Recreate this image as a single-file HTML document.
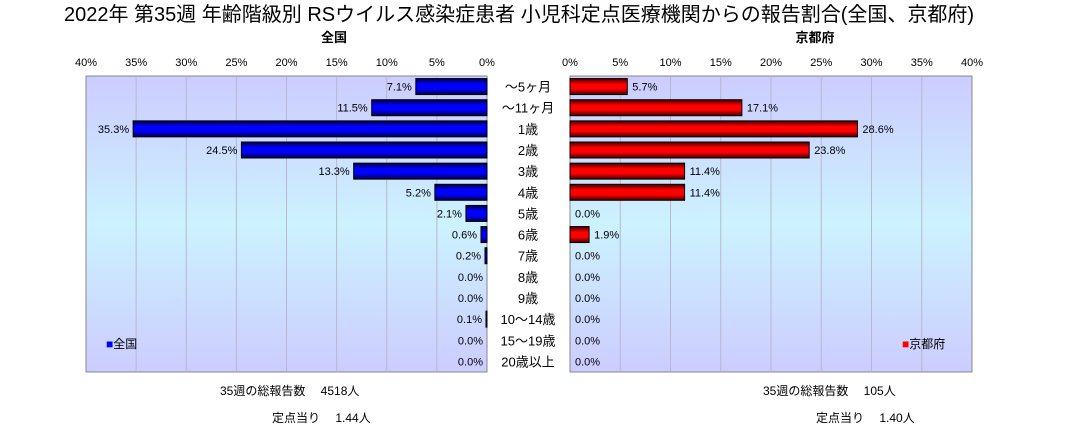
<!DOCTYPE html>
<html><head><meta charset="utf-8"><style>
body{margin:0;background:#fff;}
svg text{font-family:"Liberation Sans","Noto Sans CJK JP",sans-serif;}
</style></head><body>
<svg width="1072" height="431" xmlns="http://www.w3.org/2000/svg">
<defs>
<linearGradient id="bg" x1="0" y1="0" x2="0" y2="1">
<stop offset="0" stop-color="#ccccff"/><stop offset="0.5" stop-color="#ccf2ff"/><stop offset="1" stop-color="#ccccff"/>
</linearGradient>
<linearGradient id="gb" x1="0" y1="0" x2="0" y2="1">
<stop offset="0" stop-color="#000040"/><stop offset="0.35" stop-color="#0000ff"/><stop offset="0.65" stop-color="#0000ff"/><stop offset="1" stop-color="#000040"/>
</linearGradient>
<linearGradient id="gr" x1="0" y1="0" x2="0" y2="1">
<stop offset="0" stop-color="#400000"/><stop offset="0.35" stop-color="#ff0000"/><stop offset="0.65" stop-color="#ff0000"/><stop offset="1" stop-color="#400000"/>
</linearGradient>
</defs>
<text x="519" y="21" font-size="20" text-anchor="middle">2022年 第35週 年齢階級別 RSウイルス感染症患者 小児科定点医療機関からの報告割合(全国、京都府)</text>
<text x="334" y="42" font-size="13" font-weight="bold" text-anchor="middle">全国</text>
<text x="815" y="42" font-size="13" font-weight="bold" text-anchor="middle">京都府</text>
<rect x="86" y="76" width="401" height="296" fill="url(#bg)" stroke="#888"/>
<rect x="570" y="76" width="402" height="296" fill="url(#bg)" stroke="#888"/>
<g id="g"></g>
<text x="106" y="348" font-size="12"><tspan fill="#0000ff">■</tspan>全国</text>
<text x="902" y="348" font-size="12"><tspan fill="#ff0000">■</tspan>京都府</text>
<text x="220" y="395" font-size="12">35週の総報告数　 4518人</text>
<text x="272" y="422" font-size="12">定点当り　 1.44人</text>
<text x="763" y="395" font-size="12">35週の総報告数　 105人</text>
<text x="816" y="422" font-size="12">定点当り　 1.40人</text>
</svg>
<script>
const cats=["～5ヶ月","～11ヶ月","1歳","2歳","3歳","4歳","5歳","6歳","7歳","8歳","9歳","10～14歳","15～19歳","20歳以上"];
const zenkoku=[7.1,11.5,35.3,24.5,13.3,5.2,2.1,0.6,0.2,0.0,0.0,0.1,0.0,0.0];
const kyoto=[5.7,17.1,28.6,23.8,11.4,11.4,0.0,1.9,0.0,0.0,0.0,0.0,0.0,0.0];
const ticks=[0,5,10,15,20,25,30,35,40];
const NS="http://www.w3.org/2000/svg";
const g=document.getElementById('g');
const top0=76,H=296,rh=H/cats.length;
const xl=v=>487-v*401/40, xr=v=>570+v*402/40, yc=i=>top0+rh*(i+0.5);
function mk(t,a){const e=document.createElementNS(NS,t);for(const k in a)e.setAttribute(k,a[k]);g.appendChild(e);return e;}
ticks.forEach(t=>{
 if(t>0&&t<40){
  let l=mk('line',{x1:xl(t),x2:xl(t),y1:77,y2:371,stroke:'#b8b8c8'});
  
  
  let r=mk('line',{x1:xr(t),x2:xr(t),y1:77,y2:371,stroke:'#b8b8c8'});
  
  
 }
 let a=mk('text',{x:xl(t),y:66,'font-size':11,'text-anchor':'middle'});a.textContent=t+'%';
 
 
 let b=mk('text',{x:xr(t),y:66,'font-size':11,'text-anchor':'middle'});b.textContent=t+'%';
 
 
});
cats.forEach((c,i)=>{
 const y=yc(i);
 let lab=mk('text',{x:528,y:y+5,'font-size':13,'text-anchor':'middle'});lab.textContent=c;
 
 
 const v=zenkoku[i];
 if(v>0){let b=mk('rect',{x:xl(v),y:y-8,width:487-xl(v),height:16,fill:'url(#gb)',stroke:'#000','stroke-width':1});
  
  }
 let t=mk('text',{x:xl(v)-4,y:y+4,'font-size':11,'text-anchor':'end'});t.textContent=v.toFixed(1)+'%';
 
 
 const k=kyoto[i];
 if(k>0){let b=mk('rect',{x:570,y:y-8,width:xr(k)-570,height:16,fill:'url(#gr)',stroke:'#000','stroke-width':1});
  
  }
 let u=mk('text',{x:xr(k)+5,y:y+4,'font-size':11});u.textContent=k.toFixed(1)+'%';
 
 
});
</script>
</body></html>
